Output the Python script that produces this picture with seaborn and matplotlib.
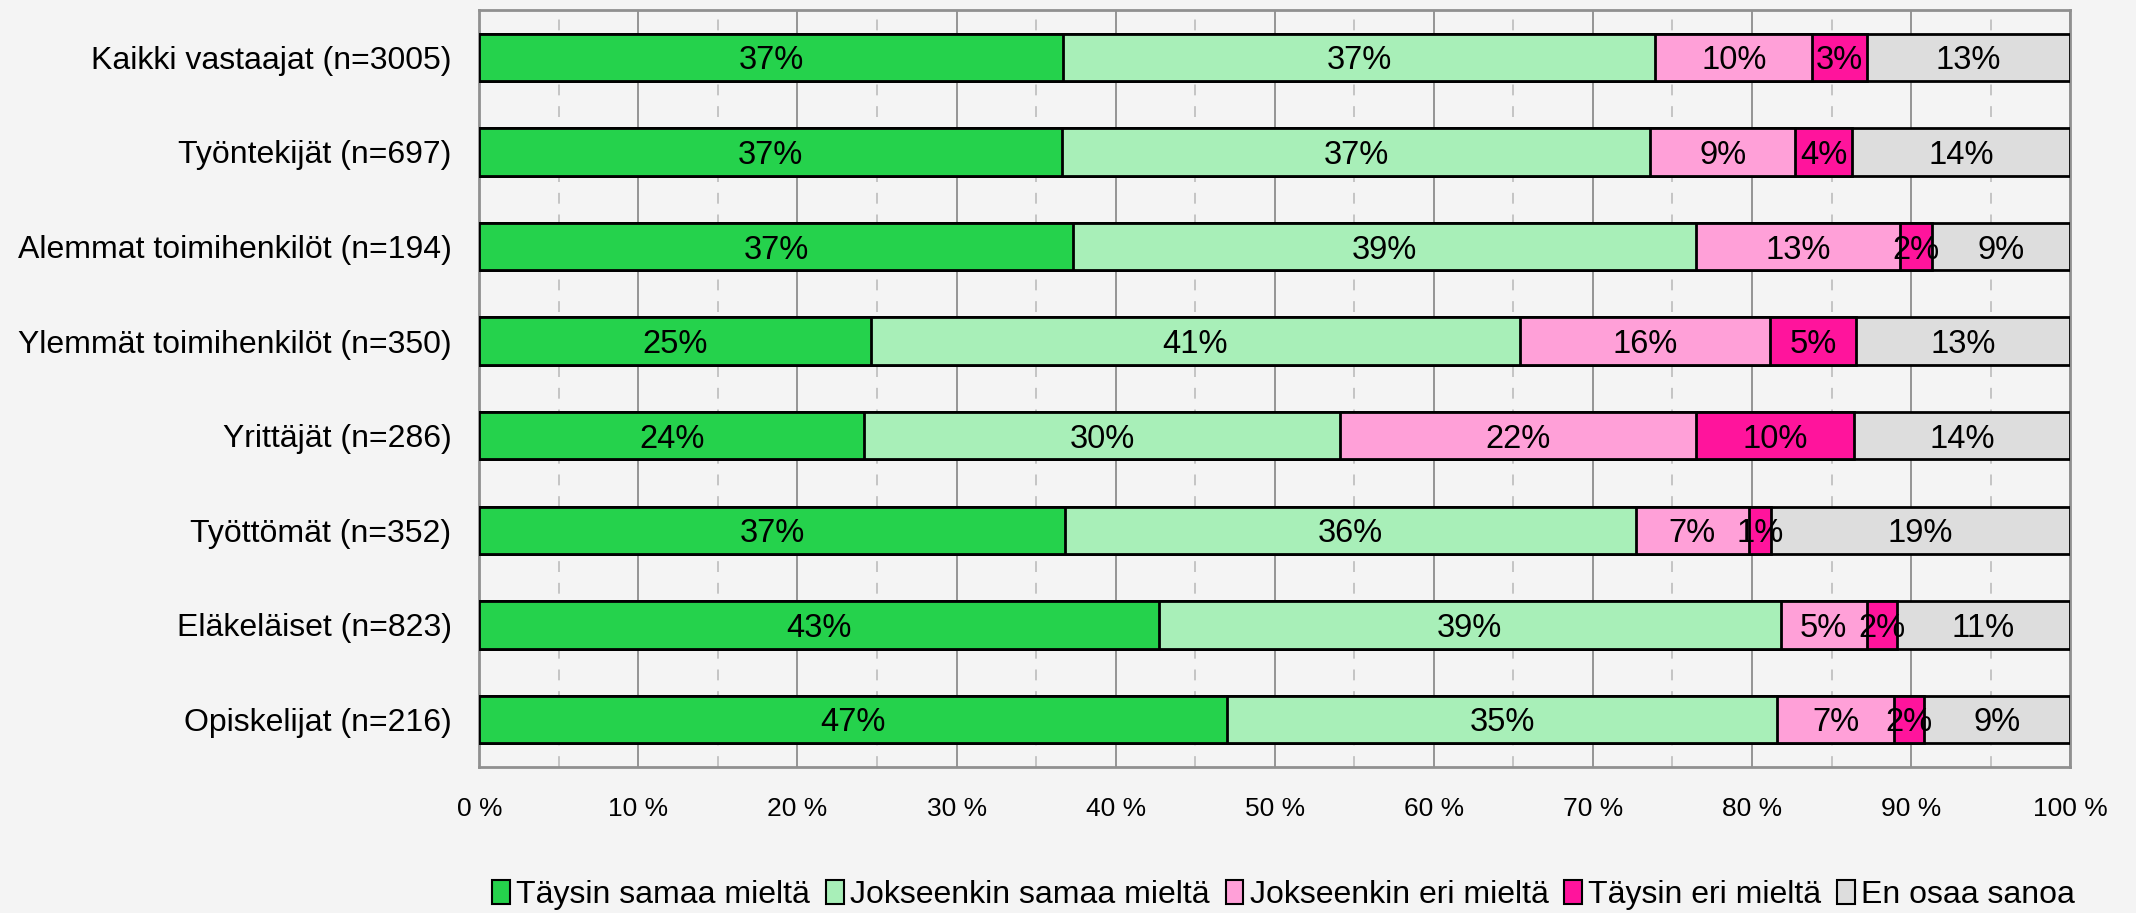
import numpy as np
import pandas as pd
import seaborn as sns
import matplotlib.pyplot as plt
import matplotlib.ticker as mtick
from matplotlib.patches import Patch

# ryhmät ja vastausten osuudet (%)
groups = ['Kaikki vastaajat (n=3005)', 'Työntekijät (n=697)', 'Alemmat toimihenkilöt (n=194)',
          'Ylemmät toimihenkilöt (n=350)', 'Yrittäjät (n=286)', 'Työttömät (n=352)',
          'Eläkeläiset (n=823)', 'Opiskelijat (n=216)']
answers = ['Täysin samaa mieltä', 'Jokseenkin samaa mieltä', 'Jokseenkin eri mieltä',
           'Täysin eri mieltä', 'En osaa sanoa']
taysin_samaa = [36.7, 36.6, 37.3, 24.6, 24.2, 36.8, 42.7, 47.0]
jokseenkin_samaa = [37.2, 37.0, 39.2, 40.8, 29.9, 35.9, 39.1, 34.6]
jokseenkin_eri = [9.9, 9.1, 12.8, 15.7, 22.4, 7.1, 5.4, 7.3]
taysin_eri = [3.4, 3.6, 2.0, 5.45, 9.9, 1.4, 1.9, 1.9]
en_osaa = [12.8, 13.7, 8.7, 13.45, 13.6, 18.8, 10.9, 9.2]
colors = ['#25D24C', '#A8EFB8', '#FFA0D8', '#FF149C', '#DDDDDD']
x_ticks = list(range(0, 101, 10))

df = pd.DataFrame({'group': groups})
for name, vals in zip(answers, [taysin_samaa, jokseenkin_samaa, jokseenkin_eri, taysin_eri, en_osaa]):
    df[name] = vals
cum = df[answers].cumsum(axis=1)

bg = '#F4F4F4'
sns.set_theme(style='white', rc={'axes.facecolor': bg, 'figure.facecolor': bg,
                                 'text.color': 'black', 'xtick.color': 'black', 'ytick.color': 'black'})
plt.rcParams['font.family'] = ['Liberation Sans', 'DejaVu Sans']

fig = plt.figure(figsize=(21.36, 9.13), dpi=100)
ax = fig.add_axes([0.2244, 0.1602, 0.7448, 0.8288])

# kumulatiiviset palkit takaperin, jotta osat pinoutuvat
for name, col in reversed(list(zip(answers, colors))):
    sns.barplot(x=cum[name], y=df['group'], order=groups, orient='h', color=col,
                width=0.5, edgecolor='black', linewidth=2, saturation=1, ax=ax, zorder=3)

for i in range(len(groups)):
    left = 0
    for name in answers:
        v = df.loc[i, name]
        ax.text(left + v / 2, i, f'{v:.0f}%', ha='center', va='center_baseline',
                fontsize=23.5, color='black', zorder=5)
        left += v

ax.set_xlim(0, 100)
ax.set_ylim(len(groups) - 0.5, -0.5)
ax.set_xticks(x_ticks)
ax.xaxis.set_minor_locator(mtick.MultipleLocator(5))
ax.xaxis.set_major_formatter(mtick.FuncFormatter(lambda v, p: f'{v:.0f} %'))
ax.grid(axis='x', which='major', color='#8C8C8C', linewidth=1.3, linestyle='-', zorder=0)
ax.grid(axis='x', which='minor', color='#C0C0C0', linewidth=1.3, linestyle=(0, (6, 6)), zorder=0)
ax.set_axisbelow(True)
ax.tick_params(axis='x', which='both', length=0, pad=22, labelsize=19, labelcolor='black')
ax.tick_params(axis='y', length=0, pad=20, labelsize=23, labelcolor='black')
ax.set_xlabel('')
ax.set_ylabel('')
for s in ax.spines.values():
    s.set_visible(True)
    s.set_color('#909090')
    s.set_linewidth(2)

handles = [Patch(facecolor=c, edgecolor='black', linewidth=1.5) for c in colors]
fig.legend(handles, answers, loc='center', bbox_to_anchor=(0.601, 0.02), ncol=5, frameon=False,
           fontsize=23, handlelength=0.55, handleheight=0.8, handletextpad=0.2, columnspacing=0.5,
           labelcolor='black')

plt.savefig('out.png', dpi=100, facecolor=bg)
